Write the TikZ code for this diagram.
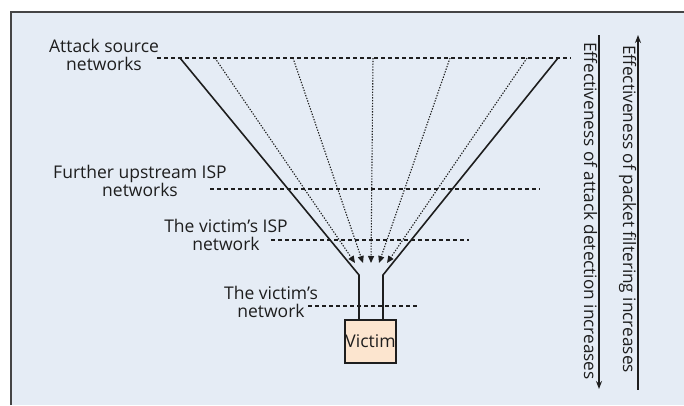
\documentclass[tikz,border=0pt]{standalone}
\usepackage{fontspec}
\setmainfont{Open Sans}
\usetikzlibrary{arrows.meta}
\definecolor{bgblue}{HTML}{E5ECF5}
\definecolor{victimfill}{HTML}{FCE5CF}
\definecolor{ink}{HTML}{1E1E1E}
\definecolor{framec}{HTML}{454545}
\begin{document}
\begin{tikzpicture}[x=1pt,y=-1pt,
  lbl/.style={font=\fontsize{17.5}{18}\selectfont, align=center, text=ink, inner sep=0pt},
  vlbl/.style={font=\fontsize{17.2}{18}\selectfont, text=ink, inner sep=0pt, rotate=-90, anchor=north},
  level/.style={dash pattern=on 4pt off 3pt, line width=1.1pt, draw=ink},
  funnel/.style={line width=1.6pt, draw=ink},
  flow/.style={dash pattern=on 1.3pt off 1.5pt, line width=1.1pt, draw=ink, -{Triangle[length=7pt,width=6pt]}},
  axis/.style={line width=1.4pt, draw=ink}
]
\useasboundingbox (0,0) rectangle (684,405);
\fill[white] (0,0) rectangle (684,405);
\fill[bgblue] (11,12) rectangle (684,405);
\draw[line width=2pt, draw=framec] (11,405) -- (11,12) -- (684,12);

% level labels
\node[lbl] (lsrc) at (104,55) {Attack source\\networks};
\node[lbl] (lup) at (140,181) {Further upstream ISP\\networks};
\node[lbl] (lisp) at (226,235) {The victim's ISP\\network};
\node[lbl] (lnet) at (271,302) {The victim's\\network};

% level lines
\coordinate (d1a) at (157,58);  \coordinate (d1b) at (571,58);
\coordinate (d2a) at (210,189); \coordinate (d2b) at (540,189);
\coordinate (d3a) at (271,240); \coordinate (d3b) at (469,240);
\coordinate (d4a) at (308,306); \coordinate (d4b) at (417,306);
\draw[level] (d1a) -- (d1b);
\draw[level] (d2a) -- (d2b);
\draw[level] (d3a) -- (d3b);
\draw[level] (d4a) -- (d4b);

% victim
\node[draw=ink, line width=1.3pt, fill=victimfill, minimum width=51pt, minimum height=43pt, inner sep=0pt,
      font=\fontsize{17.5}{18}\selectfont, text=ink] (victim) at (370.5,341.5) {Victim};

% funnel
\coordinate (sL) at (180,58);  \coordinate (kL) at (359,275);
\coordinate (sR) at (558,58);  \coordinate (kR) at (383,275);
\draw[funnel] (sL) -- (kL) -- (kL |- victim.north);
\draw[funnel] (sR) -- (kR) -- (kR |- victim.north);

% flows
\coordinate (f1) at (215,58); \coordinate (t1) at (355,263);
\coordinate (f2) at (293,58); \coordinate (t2) at (363,263);
\coordinate (f3) at (373,58); \coordinate (t3) at (371,263);
\coordinate (f4) at (450,58); \coordinate (t4) at (379,263);
\coordinate (f5) at (527,58); \coordinate (t5) at (387,263);
\draw[flow] (f1) -- (t1);
\draw[flow] (f2) -- (t2);
\draw[flow] (f3) -- (t3);
\draw[flow] (f4) -- (t4);
\draw[flow] (f5) -- (t5);

% axes
\coordinate (a1t) at (599,35);  \coordinate (a1b) at (599,389);
\coordinate (a2t) at (638,35);  \coordinate (a2b) at (638,390);
\draw[axis, -{Stealth[length=8pt,width=6pt]}] (a1t) -- (a1b);
\draw[axis, {Stealth[length=8pt,width=6pt]}-] (a2t) -- (a2b);
\node[vlbl] (adet) at (597.5,211) {Effectiveness of attack detection increases};
\node[vlbl] (afil) at (636.5,209) {Effectiveness of packet filtering increases};
\end{tikzpicture}
\end{document}
